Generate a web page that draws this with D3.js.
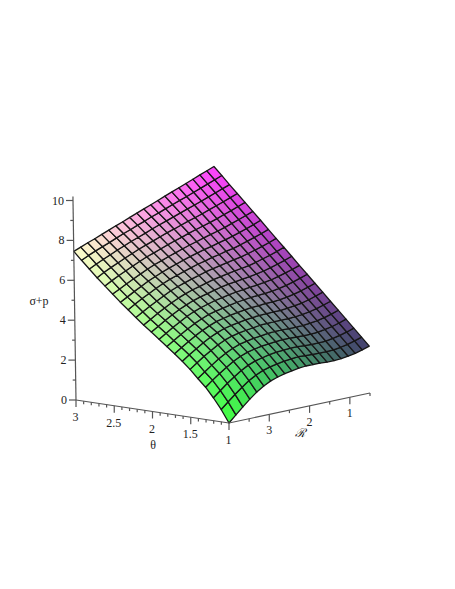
<!DOCTYPE html>
<html>
<head>
<meta charset="utf-8">
<script src="https://cdn.jsdelivr.net/npm/d3@7"></script>
<style>
  body { margin: 0; background: #fff; }
  text { font-family: "Liberation Serif", serif; font-size: 12px; fill: #222; }
</style>
</head>
<body>
<div id="chart"></div>
<script>
(function() {
  var thetaMesh = [1, 1.1, 1.2, 1.3, 1.4, 1.5, 1.6, 1.7, 1.8, 1.9, 2, 2.1, 2.2, 2.3, 2.4, 2.5, 2.6, 2.7, 2.8, 2.9, 3];
  var rMesh = [4, 3.825, 3.65, 3.475, 3.3, 3.125, 2.95, 2.775, 2.6, 2.425, 2.25, 2.075, 1.9, 1.725, 1.55, 1.375, 1.2, 1.025, 0.85, 0.675, 0.5];

  // sigma + p, one row per R line, theta 1 -> 3 along a row
  var heights = [
    [0, .62, 1.15, 1.62, 2, 2.4, 2.75, 3.07, 3.37, 3.68, 3.98, 4.28, 4.6, 4.93, 5.25, 5.6, 5.95, 6.3, 6.68, 7.06, 7.45],
    [.33, .93, 1.44, 1.9, 2.26, 2.66, 3, 3.31, 3.6, 3.91, 4.2, 4.49, 4.81, 5.14, 5.44, 5.78, 6.14, 6.5, 6.86, 7.23, 7.59],
    [.66, 1.23, 1.73, 2.16, 2.52, 2.91, 3.23, 3.53, 3.83, 4.13, 4.42, 4.71, 5.01, 5.34, 5.64, 5.96, 6.32, 6.67, 7.02, 7.38, 7.73],
    [.97, 1.51, 1.98, 2.4, 2.76, 3.12, 3.45, 3.75, 4.04, 4.33, 4.62, 4.9, 5.2, 5.52, 5.82, 6.14, 6.48, 6.83, 7.17, 7.52, 7.86],
    [1.25, 1.77, 2.22, 2.62, 2.97, 3.33, 3.65, 3.94, 4.23, 4.53, 4.81, 5.09, 5.39, 5.7, 6.01, 6.31, 6.65, 6.99, 7.33, 7.66, 8],
    [1.48, 1.97, 2.41, 2.8, 3.14, 3.5, 3.81, 4.1, 4.39, 4.69, 4.97, 5.26, 5.56, 5.87, 6.16, 6.48, 6.81, 7.14, 7.47, 7.81, 8.14],
    [1.66, 2.13, 2.55, 2.93, 3.27, 3.62, 3.94, 4.24, 4.53, 4.82, 5.11, 5.4, 5.7, 6.01, 6.31, 6.63, 6.96, 7.29, 7.62, 7.95, 8.28],
    [1.78, 2.23, 2.63, 3.01, 3.35, 3.7, 4.02, 4.32, 4.62, 4.92, 5.22, 5.52, 5.82, 6.13, 6.44, 6.75, 7.08, 7.42, 7.75, 8.08, 8.41],
    [1.87, 2.3, 2.71, 3.08, 3.42, 3.76, 4.08, 4.4, 4.7, 5.02, 5.31, 5.61, 5.93, 6.25, 6.56, 6.88, 7.21, 7.55, 7.88, 8.22, 8.55],
    [1.94, 2.37, 2.76, 3.12, 3.46, 3.81, 4.15, 4.46, 4.77, 5.09, 5.41, 5.71, 6.03, 6.36, 6.68, 7, 7.34, 7.68, 8.02, 8.35, 8.69],
    [2, 2.41, 2.79, 3.16, 3.51, 3.86, 4.19, 4.52, 4.84, 5.16, 5.49, 5.81, 6.14, 6.47, 6.79, 7.12, 7.46, 7.81, 8.15, 8.49, 8.83],
    [2.03, 2.44, 2.81, 3.18, 3.53, 3.88, 4.22, 4.56, 4.89, 5.22, 5.56, 5.88, 6.22, 6.55, 6.89, 7.23, 7.57, 7.92, 8.27, 8.61, 8.96],
    [2.03, 2.42, 2.81, 3.18, 3.53, 3.89, 4.24, 4.58, 4.93, 5.27, 5.61, 5.95, 6.29, 6.65, 6.99, 7.33, 7.69, 8.04, 8.39, 8.75, 9.1],
    [2.02, 2.41, 2.79, 3.16, 3.52, 3.89, 4.25, 4.61, 4.96, 5.31, 5.66, 6.01, 6.37, 6.72, 7.07, 7.44, 7.8, 8.16, 8.52, 8.88, 9.24],
    [2, 2.39, 2.77, 3.15, 3.52, 3.89, 4.25, 4.62, 4.98, 5.35, 5.71, 6.07, 6.44, 6.81, 7.17, 7.54, 7.9, 8.27, 8.64, 9.01, 9.38],
    [2, 2.39, 2.77, 3.16, 3.53, 3.91, 4.28, 4.65, 5.02, 5.4, 5.77, 6.13, 6.51, 6.88, 7.26, 7.63, 8.01, 8.38, 8.76, 9.13, 9.51],
    [2.02, 2.41, 2.79, 3.18, 3.57, 3.95, 4.33, 4.7, 5.08, 5.46, 5.84, 6.22, 6.6, 6.98, 7.36, 7.74, 8.12, 8.51, 8.89, 9.27, 9.65],
    [2.07, 2.46, 2.85, 3.24, 3.62, 4.01, 4.39, 4.78, 5.16, 5.55, 5.93, 6.32, 6.7, 7.09, 7.47, 7.86, 8.25, 8.63, 9.02, 9.4, 9.79],
    [2.14, 2.53, 2.92, 3.31, 3.7, 4.09, 4.48, 4.87, 5.26, 5.65, 6.04, 6.42, 6.81, 7.2, 7.59, 7.98, 8.37, 8.76, 9.15, 9.54, 9.93],
    [2.24, 2.63, 3.02, 3.41, 3.8, 4.2, 4.59, 4.98, 5.37, 5.76, 6.15, 6.54, 6.93, 7.32, 7.71, 8.11, 8.5, 8.89, 9.28, 9.67, 10.06],
    [2.35, 2.74, 3.14, 3.53, 3.92, 4.31, 4.71, 5.1, 5.49, 5.88, 6.28, 6.67, 7.06, 7.45, 7.85, 8.24, 8.63, 9.02, 9.41, 9.81, 10.2]
  ];

  var zTicks = [0, 1, 2, 3, 4, 5, 6, 7, 8, 9, 10];
  var zLabels = [0, 2, 4, 6, 8, 10];
  var thetaTicks = [3, 2.9, 2.8, 2.7, 2.6, 2.5, 2.4, 2.3, 2.2, 2.1, 2, 1.9, 1.8, 1.7, 1.6, 1.5, 1.4, 1.3, 1.2, 1.1, 1];
  var thetaLabels = ['3', '2.5', '2', '1.5', '1'];
  var rTicks = [3.5, 3, 2.5, 2, 1.5, 1, 0.5];
  var rLabels = [3, 2, 1];

  var svg = d3.select('#chart')
            .append('svg')
            .attr('width', 455)
            .attr('height', 589);

  // the view is a parallel projection, each data axis is a straight screen offset
  var originX = 76;
  var originY = 400;
  var thetaX = d3.scaleLinear().domain([3, 1]).range([0, 153]);
  var thetaY = d3.scaleLinear().domain([3, 1]).range([0, 23]);
  var rX = d3.scaleLinear().domain([4, 0.5]).range([0, 141]);
  var rY = d3.scaleLinear().domain([4, 0.5]).range([0, -30]);
  var zX = d3.scaleLinear().domain([0, 10]).range([0, -3]);
  var zY = d3.scaleLinear().domain([0, 10]).range([0, -199.5]);

  var red = d3.scaleLinear().domain([1, 3]).range([64, 255]);
  var green = d3.scaleLinear().domain([0.5, 4]).range([64, 255]);
  var blue = d3.scaleLinear().domain([0, 10.2]).range([64, 255]);

  function project(theta, r, z) {
    return [
      originX + thetaX(theta) + rX(r) + zX(z),
      originY + thetaY(theta) + rY(r) + zY(z)
    ];
  }

  function drawSurface() {
    var cells = [];

    for (var i = 0; i < rMesh.length - 1; i++) {
      for (var j = 0; j < thetaMesh.length - 1; j++) {
        cells.push({ i: i, j: j });
      }
    }

    svg.append('g')
      .selectAll('path')
      .data(cells)
      .enter()
      .append('path')
      .attr('d', function(d) {
        var corners = [[d.i, d.j], [d.i, d.j + 1], [d.i + 1, d.j + 1], [d.i + 1, d.j]];
        var points = corners.map(function(c) {
          return project(thetaMesh[c[1]], rMesh[c[0]], heights[c[0]][c[1]]);
        });
        return 'M' + points.join('L') + 'Z';
      })
      .attr('fill', function(d) {
        var theta = (thetaMesh[d.j] + thetaMesh[d.j + 1]) / 2;
        var r = (rMesh[d.i] + rMesh[d.i + 1]) / 2;
        var z = (heights[d.i][d.j] + heights[d.i][d.j + 1] + heights[d.i + 1][d.j] + heights[d.i + 1][d.j + 1]) / 4;
        return d3.rgb(red(theta), green(r), blue(z));
      })
      .attr('stroke', '#161616')
      .attr('stroke-width', 1.3)
      .attr('stroke-linejoin', 'round');
  }

  function drawLine(a, b) {
    svg.append('line')
      .attr('x1', a[0])
      .attr('y1', a[1])
      .attr('x2', b[0])
      .attr('y2', b[1])
      .attr('stroke', '#555')
      .attr('stroke-width', 1.2);
  }

  function drawLabel(text, x, y) {
    return svg.append('text')
      .attr('x', x)
      .attr('y', y)
      .attr('text-anchor', 'middle')
      .text(text);
  }

  function drawAxes() {
    drawLine(project(3, 4, 0), project(3, 4, 10.2));
    drawLine(project(3, 4, 0), project(1, 4, 0));
    drawLine(project(1, 4, 0), project(1, 0.5, 0));

    zTicks.forEach(function(z) {
      var p = project(3, 4, z);
      var size = zLabels.indexOf(z) >= 0 ? 7 : 3;
      drawLine(p, [p[0] - size, p[1]]);
    });

    zLabels.forEach(function(z) {
      var p = project(3, 4, z);
      drawLabel(z, p[0] - (z === 10 ? 15 : 12), p[1] + 4);
    });

    thetaTicks.forEach(function(theta) {
      var p = project(theta, 4, 0);
      var size = (theta * 2) % 1 === 0 ? 7 : 3;
      drawLine(p, [p[0], p[1] + size]);
    });

    thetaLabels.forEach(function(label) {
      var p = project(+label, 4, 0);
      drawLabel(label, p[0] - 0.5, p[1] + 21);
    });

    rTicks.forEach(function(r) {
      var p = project(1, r, 0);
      var size = r % 1 === 0 ? 7 : 3;
      drawLine(p, [p[0], p[1] + size]);
    });

    rLabels.forEach(function(r) {
      var p = project(1, r, 0);
      drawLabel(r, p[0], p[1] + 20);
    });

    drawLabel('θ', 153, 449);
    drawLabel('σ+p', 39, 305);
    drawLabel('ℛ', 300, 437).style('font-style', 'italic');
  }

  drawSurface();
  drawAxes();
}());
</script>
</body>
</html>
